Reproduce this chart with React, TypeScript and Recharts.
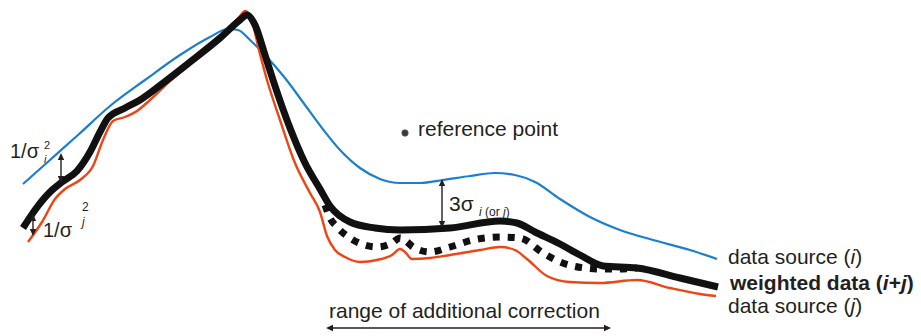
import React from 'react';
import { ComposedChart, Line, XAxis, YAxis, ReferenceDot, ReferenceLine } from 'recharts';

// position along the profile (x) and depth level (y, grows downward)
const sourceI = [
  { x: 23, y: 184 }, { x: 50, y: 160 }, { x: 78, y: 135 }, { x: 110, y: 106 },
  { x: 145, y: 80 }, { x: 180, y: 55 }, { x: 210, y: 37 }, { x: 228, y: 29 },
  { x: 238, y: 30 }, { x: 250, y: 40 }, { x: 265, y: 55 }, { x: 285, y: 78 },
  { x: 305, y: 105 }, { x: 322, y: 128 }, { x: 340, y: 150 }, { x: 360, y: 168 },
  { x: 380, y: 179 }, { x: 400, y: 183 }, { x: 420, y: 183 }, { x: 443, y: 180 },
  { x: 470, y: 176 }, { x: 495, y: 173 }, { x: 515, y: 175 }, { x: 535, y: 182 },
  { x: 560, y: 199 }, { x: 590, y: 217 }, { x: 620, y: 230 }, { x: 653, y: 240 },
  { x: 690, y: 250 }, { x: 717, y: 259 },
];

const sourceJ = [
  { x: 28, y: 242 }, { x: 42, y: 222 }, { x: 55, y: 199 }, { x: 65, y: 189 },
  { x: 80, y: 180 }, { x: 93, y: 166 }, { x: 103, y: 140 }, { x: 113, y: 121 },
  { x: 125, y: 117 }, { x: 137, y: 111 }, { x: 150, y: 100 }, { x: 170, y: 81 },
  { x: 200, y: 56 }, { x: 225, y: 34 }, { x: 240, y: 16 }, { x: 245, y: 11 },
  { x: 251, y: 18 }, { x: 259, y: 50 }, { x: 267, y: 80 }, { x: 280, y: 120 },
  { x: 295, y: 163 }, { x: 310, y: 193 }, { x: 320, y: 212 }, { x: 327, y: 236 },
  { x: 335, y: 250 }, { x: 345, y: 257 }, { x: 360, y: 262 }, { x: 377, y: 260 },
  { x: 392, y: 255 }, { x: 400, y: 249 }, { x: 405, y: 252 }, { x: 412, y: 259 },
  { x: 430, y: 258 }, { x: 450, y: 255 }, { x: 480, y: 250 }, { x: 500, y: 247 },
  { x: 515, y: 250 }, { x: 527, y: 259 }, { x: 547, y: 276 }, { x: 570, y: 282 },
  { x: 600, y: 283 }, { x: 637, y: 280 }, { x: 670, y: 288 }, { x: 700, y: 294 },
  { x: 716, y: 296 },
];

const weighted = [
  { x: 23, y: 228 }, { x: 35, y: 210 }, { x: 50, y: 192 }, { x: 62, y: 182 },
  { x: 77, y: 171 }, { x: 90, y: 152 }, { x: 100, y: 132 }, { x: 108, y: 118 },
  { x: 125, y: 108 }, { x: 140, y: 100 }, { x: 167, y: 80 }, { x: 190, y: 62 },
  { x: 220, y: 38 }, { x: 240, y: 20 }, { x: 247, y: 15 }, { x: 255, y: 25 },
  { x: 265, y: 55 }, { x: 273, y: 80 }, { x: 290, y: 128 }, { x: 305, y: 163 },
  { x: 320, y: 189 }, { x: 330, y: 206 }, { x: 350, y: 222 }, { x: 375, y: 228 },
  { x: 400, y: 230 }, { x: 450, y: 228 }, { x: 500, y: 221 }, { x: 517, y: 223 },
  { x: 535, y: 232 }, { x: 560, y: 244 }, { x: 580, y: 255 }, { x: 603, y: 266 },
  { x: 637, y: 268 }, { x: 680, y: 278 }, { x: 718, y: 287 },
];

const corrected = [
  { x: 325, y: 205 }, { x: 330, y: 218 }, { x: 337, y: 227 }, { x: 350, y: 238 },
  { x: 377, y: 247 }, { x: 392, y: 243 }, { x: 400, y: 238 }, { x: 406, y: 241 },
  { x: 413, y: 247 }, { x: 430, y: 252 }, { x: 450, y: 247 }, { x: 473, y: 240 },
  { x: 500, y: 237 }, { x: 520, y: 238 }, { x: 543, y: 253 }, { x: 560, y: 262 },
  { x: 585, y: 268 }, { x: 603, y: 269 }, { x: 620, y: 269 }, { x: 637, y: 268 },
];

const referencePoint = { x: 405, y: 133 };

const FONT = '"Liberation Sans", Arial, Helvetica, sans-serif';
const INK = '#231f20';
const BLUE = '#1a7fcf';
const RED = '#ee4514';

function ArrowShape(props: any) {
  const { x1, y1, x2, y2 } = props;
  const dx = x2 - x1;
  const dy = y2 - y1;
  const len = Math.sqrt(dx * dx + dy * dy) || 1;
  const ux = dx / len;
  const uy = dy / len;
  const px = -uy;
  const py = ux;
  const hl = 7;
  const hw = 3.2;
  const head = (tx: number, ty: number, dirx: number, diry: number) => {
    const bx = tx - dirx * hl;
    const by = ty - diry * hl;
    return `${tx},${ty} ${bx + px * hw},${by + py * hw} ${bx - px * hw},${by - py * hw}`;
  };
  return (
    <g>
      <line x1={x1 + ux * 4} y1={y1 + uy * 4} x2={x2 - ux * 4} y2={y2 - uy * 4} stroke={INK} strokeWidth={1.4} />
      <polygon points={head(x2, y2, ux, uy)} fill={INK} />
      <polygon points={head(x1, y1, -ux, -uy)} fill={INK} />
    </g>
  );
}

const textAt = (key: string, x: number, y: number, content: React.ReactNode) => (
  <ReferenceDot
    key={key}
    x={x}
    y={y}
    r={0}
    ifOverflow="visible"
    shape={(p: any) => (
      <text x={p.cx} y={p.cy} fontFamily={FONT} fill={INK}>
        {content}
      </text>
    )}
  />
);

export default function App() {
  return (
    <div style={{ position: 'absolute', left: 0, top: 0, width: 921, height: 336, background: '#fff' }}>
      <ComposedChart width={921} height={336} margin={{ top: 0, right: 0, bottom: 0, left: 0 }}>
        <XAxis type="number" dataKey="x" domain={[0, 921]} hide allowDataOverflow />
        <YAxis type="number" dataKey="y" domain={[0, 336]} reversed hide allowDataOverflow />
        <Line data={sourceI} dataKey="y" type="monotone" stroke={BLUE} strokeWidth={2.2} dot={false} activeDot={false} isAnimationActive={false} />
        <Line data={sourceJ} dataKey="y" type="monotone" stroke={RED} strokeWidth={2.4} dot={false} activeDot={false} isAnimationActive={false} />
        <Line data={corrected} dataKey="y" type="monotone" stroke="#111" strokeWidth={7} strokeDasharray="7 8" strokeLinecap="butt" dot={false} activeDot={false} isAnimationActive={false} />
        <Line data={weighted} dataKey="y" type="monotone" stroke="#111" strokeWidth={7} strokeLinejoin="round" dot={false} activeDot={false} isAnimationActive={false} />

        <ReferenceDot x={referencePoint.x} y={referencePoint.y} r={3.2} fill="#3a3a3a" stroke="#555" strokeWidth={0.8} ifOverflow="visible" />

        <ReferenceLine segment={[{ x: 61, y: 153 }, { x: 61, y: 183 }]} ifOverflow="visible" shape={ArrowShape} />
        <ReferenceLine segment={[{ x: 33, y: 214 }, { x: 33, y: 236 }]} ifOverflow="visible" shape={ArrowShape} />
        <ReferenceLine segment={[{ x: 442, y: 179 }, { x: 442, y: 228 }]} ifOverflow="visible" shape={ArrowShape} />
        <ReferenceLine segment={[{ x: 326, y: 328 }, { x: 611, y: 328 }]} ifOverflow="visible" shape={ArrowShape} />

        {textAt('ref', 418, 136, <tspan fontSize={21}>reference point</tspan>)}
        {textAt('s1', 10, 158, <tspan fontSize={20}>1/σ</tspan>)}
        {textAt('s1sup', 44, 149, <tspan fontSize={11}>2</tspan>)}
        {textAt('s1sub', 44, 163, <tspan fontSize={11} fontStyle="italic">i</tspan>)}
        {textAt('s2', 43, 237, <tspan fontSize={20}>1/σ</tspan>)}
        {textAt('s2sup', 82, 211, <tspan fontSize={12}>2</tspan>)}
        {textAt('s2sub', 82, 226, <tspan fontSize={12} fontStyle="italic">j</tspan>)}
        {textAt('s3', 449, 211, <tspan fontSize={21}>3σ</tspan>)}
        {textAt('s3sub', 479, 216, <>
          <tspan fontSize={12} fontStyle="italic">i</tspan>
          <tspan fontSize={12}> (or </tspan>
          <tspan fontSize={12} fontStyle="italic">j</tspan>
          <tspan fontSize={12}>)</tspan>
        </>)}
        {textAt('li', 728, 264, <>
          <tspan fontSize={21}>data source (</tspan>
          <tspan fontSize={21} fontStyle="italic">i</tspan>
          <tspan fontSize={21}>)</tspan>
        </>)}
        {textAt('lw', 730, 290, <>
          <tspan fontSize={21} fontWeight="bold">weighted data (</tspan>
          <tspan fontSize={21} fontWeight="bold" fontStyle="italic">i</tspan>
          <tspan fontSize={21} fontWeight="bold">+</tspan>
          <tspan fontSize={21} fontWeight="bold" fontStyle="italic">j</tspan>
          <tspan fontSize={21} fontWeight="bold">)</tspan>
        </>)}
        {textAt('lj', 728, 313, <>
          <tspan fontSize={21}>data source (</tspan>
          <tspan fontSize={21} fontStyle="italic">j</tspan>
          <tspan fontSize={21}>)</tspan>
        </>)}
        {textAt('range', 329, 318, <tspan fontSize={21}>range of additional correction</tspan>)}
      </ComposedChart>
    </div>
  );
}
